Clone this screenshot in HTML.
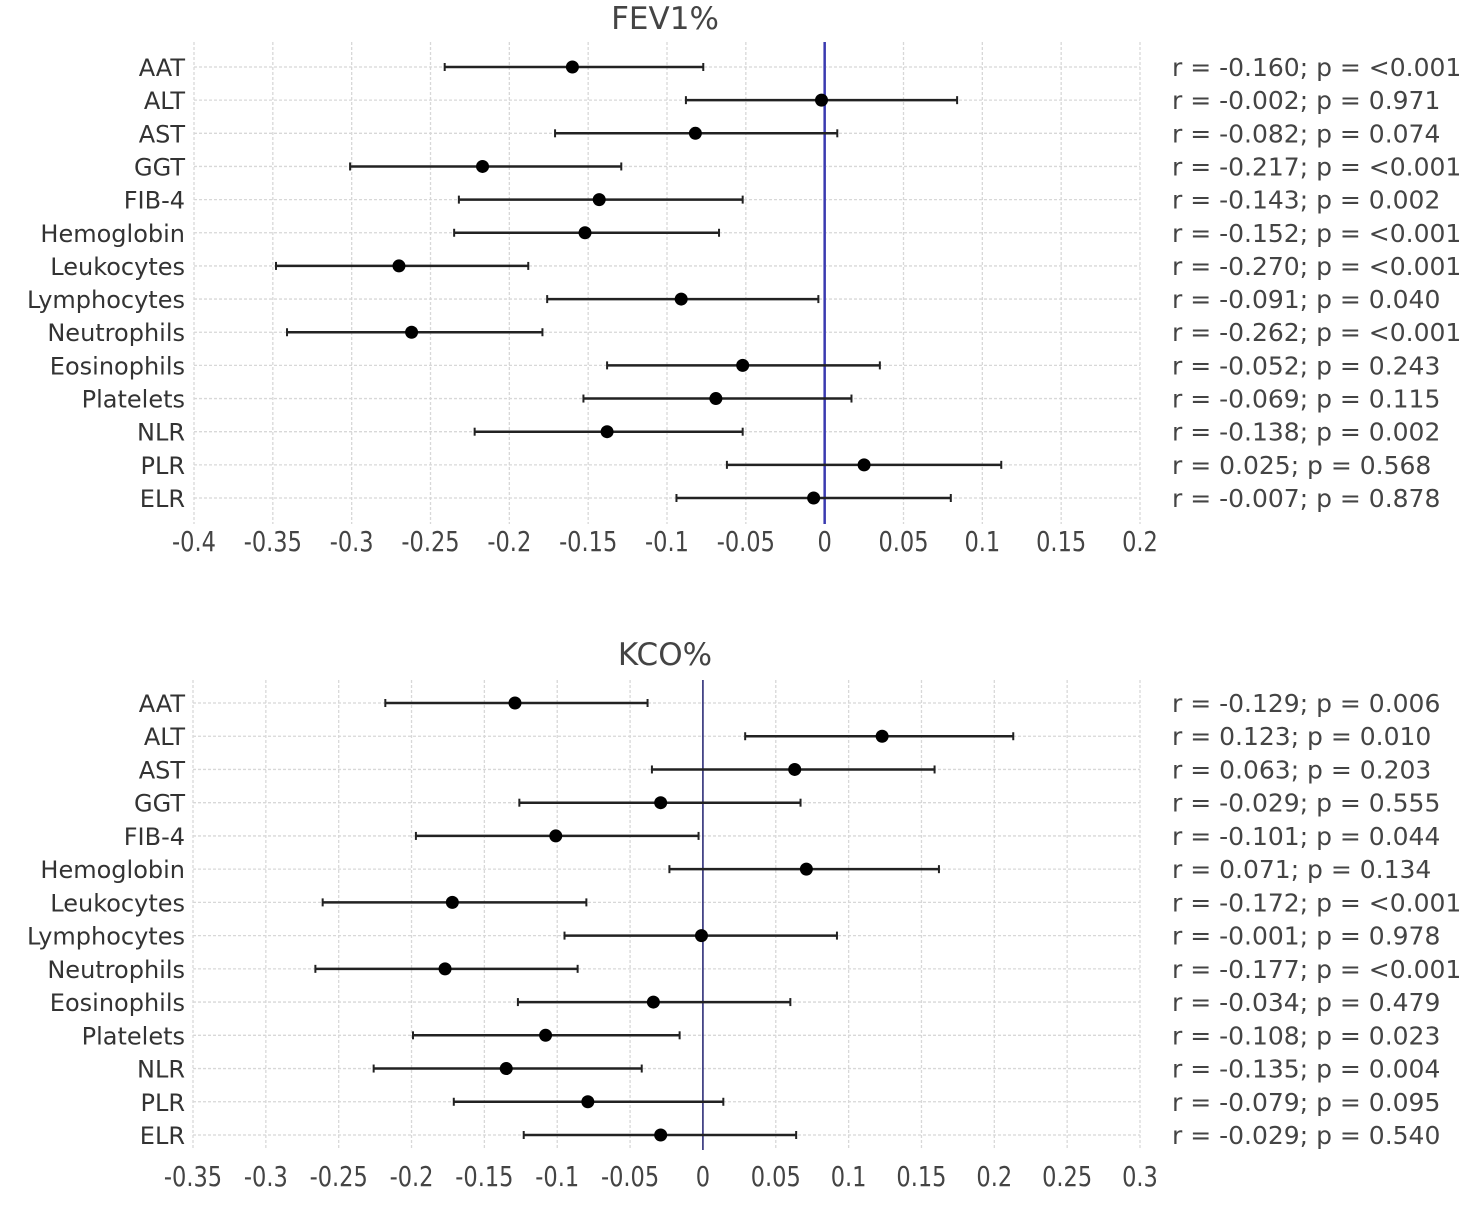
<!DOCTYPE html>
<html><head><meta charset="utf-8">
<style>
body{margin:0;background:#fff;}
svg{display:block;font-family:"DejaVu Sans","Liberation Sans",sans-serif;}
</style></head>
<body>
<svg id="chart" width="1475" height="1209" viewBox="0 0 1475 1209" xmlns="http://www.w3.org/2000/svg"></svg>
<script>
const categories = ["AAT","ALT","AST","GGT","FIB-4","Hemoglobin","Leukocytes","Lymphocytes","Neutrophils","Eosinophils","Platelets","NLR","PLR","ELR"];
const fevR = [-0.160,-0.002,-0.082,-0.217,-0.143,-0.152,-0.270,-0.091,-0.262,-0.052,-0.069,-0.138,0.025,-0.007];
const fevLow = [-0.241,-0.088,-0.171,-0.301,-0.232,-0.235,-0.348,-0.176,-0.341,-0.138,-0.153,-0.222,-0.062,-0.094];
const fevHigh = [-0.077,0.084,0.008,-0.129,-0.052,-0.067,-0.188,-0.004,-0.179,0.035,0.017,-0.052,0.112,0.080];
const fevP = ["<0.001","0.971","0.074","<0.001","0.002","<0.001","<0.001","0.040","<0.001","0.243","0.115","0.002","0.568","0.878"];
const fevTicks = [-0.4,-0.35,-0.3,-0.25,-0.2,-0.15,-0.1,-0.05,0,0.05,0.1,0.15,0.2];
const kcoR = [-0.129,0.123,0.063,-0.029,-0.101,0.071,-0.172,-0.001,-0.177,-0.034,-0.108,-0.135,-0.079,-0.029];
const kcoLow = [-0.218,0.029,-0.035,-0.126,-0.197,-0.023,-0.261,-0.095,-0.266,-0.127,-0.199,-0.226,-0.171,-0.123];
const kcoHigh = [-0.038,0.213,0.159,0.067,-0.003,0.162,-0.080,0.092,-0.086,0.060,-0.016,-0.042,0.014,0.064];
const kcoP = ["0.006","0.010","0.203","0.555","0.044","0.134","<0.001","0.978","<0.001","0.479","0.023","0.004","0.095","0.540"];
const kcoTicks = [-0.35,-0.3,-0.25,-0.2,-0.15,-0.1,-0.05,0,0.05,0.1,0.15,0.2,0.25,0.3];

const NS="http://www.w3.org/2000/svg";
const svg=document.getElementById('chart');
function mk(tag,attrs,parent){const e=document.createElementNS(NS,tag);for(const k in attrs)e.setAttribute(k,attrs[k]);(parent||svg).appendChild(e);return e;}
function fmt(v){return v.toFixed(3);}
function tickFmt(v){if(Math.abs(v)<1e-9)return "0";return String(+v.toFixed(2));}

function panel(o){
  const g=mk('g',{});
  
  
  const x=v=>o.x0+(v-o.dmin)/(o.dmax-o.dmin)*(o.x1-o.x0);
  const y=i=>o.yFirst+i*(o.yLast-o.yFirst)/(categories.length-1);
  const t=mk('text',{x:665,y:o.titleY,'text-anchor':'middle','font-size':31,fill:'#444'},g);
  t.textContent=o.title;
  
  
  o.ticks.forEach(v=>{
    const l=mk('line',{x1:x(v),x2:x(v),y1:o.gTop,y2:o.gBot,stroke:'#d8d8d8','stroke-width':1.3,'stroke-dasharray':'3,2'},g);
    
    
    const tl=mk('text',{x:x(v),y:o.tickY,'text-anchor':'middle','font-size':25,fill:'#444',transform:'translate('+x(v)+' '+o.tickY+') scale(0.9 1.1) translate('+(-x(v))+' '+(-o.tickY)+')'},g);
    tl.textContent=tickFmt(v);
    
    
  });
  categories.forEach((c,i)=>{
    const gl=mk('line',{x1:o.x0,x2:o.x1,y1:y(i),y2:y(i),stroke:'#d8d8d8','stroke-width':1.3,'stroke-dasharray':'3,2'},g);
    
    
  });
  const z=mk('line',{x1:x(0),x2:x(0),y1:o.gTop,y2:o.gBot,stroke:o.zeroColor,'stroke-width':o.zeroW},g);
  
  
  categories.forEach((c,i)=>{
    const yy=y(i);
    const lab=mk('text',{x:185,y:yy+9,'text-anchor':'end','font-size':24,fill:'#333'},g);
    lab.textContent=c;
    
    
    const ci=mk('line',{x1:x(o.low[i]),x2:x(o.high[i]),y1:yy,y2:yy,stroke:'#222','stroke-width':2.5},g);
    
    
    [o.low[i],o.high[i]].forEach(v=>{
      const cap=mk('line',{x1:x(v),x2:x(v),y1:yy-4,y2:yy+4,stroke:'#222','stroke-width':2},g);
      
      
    });
    const p=mk('circle',{cx:x(o.r[i]),cy:yy,r:6.5,fill:'#000'},g);
    
    
    const a=mk('text',{x:1172,y:yy+9,'font-size':25,fill:'#444'},g);
    a.textContent='r = '+fmt(o.r[i])+'; p = '+o.p[i];
    
    
  });
}
panel({name:'fev1',title:'FEV1%',titleY:29,x0:194,x1:1140,dmin:-0.4,dmax:0.2,gTop:42,gBot:524,yFirst:67,yLast:498,tickY:551,ticks:fevTicks,r:fevR,low:fevLow,high:fevHigh,p:fevP,zeroColor:'#3a3ab0',zeroW:2.5});
panel({name:'kco',title:'KCO%',titleY:665,x0:193,x1:1140,dmin:-0.35,dmax:0.3,gTop:680,gBot:1150,yFirst:703,yLast:1135,tickY:1186,ticks:kcoTicks,r:kcoR,low:kcoLow,high:kcoHigh,p:kcoP,zeroColor:'#202070',zeroW:1.5});
</script>
</body></html>
